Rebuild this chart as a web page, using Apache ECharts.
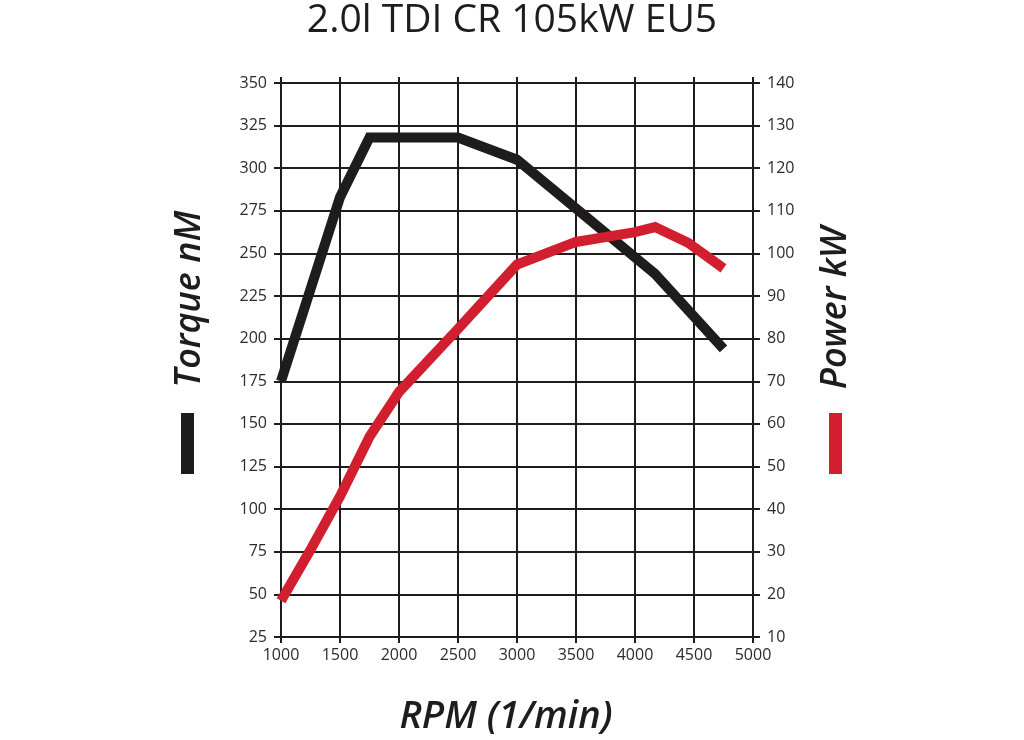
<!DOCTYPE html>
<html>
<head>
    <meta charset="UTF-8">
    <title>2.0l TDI CR 105kW EU5</title>
    <script src="https://cdn.jsdelivr.net/npm/echarts@6/dist/echarts.min.js"></script>
    <style>
        html, body { margin: 0; padding: 0; background: #fff; }
        #main { width: 1024px; height: 740px; }
    </style>
</head>
<body>
<div id="main"></div>
<script type="text/javascript">
    // values
    var rpmTorque = [1000, 1500, 1750, 2500, 3000, 4170, 4750];
    var torqueNm = [175, 283, 318, 318, 305, 238, 194];

    var rpmPower = [1000, 1250, 1500, 1750, 2000, 2500, 3000, 3500, 4000, 4170, 4450, 4750];
    var powerKw = [18.5, 30.5, 43, 57, 67.5, 82.3, 97.4, 102.7, 105, 106.2, 102.5, 96.5];

    var rpmTicks = [1000, 5000, 500];      // min, max, step
    var torqueTicks = [25, 350, 25];
    var powerTicks = [10, 140, 10];

    var INK = '#1e1c1d';
    var RED = '#d21f30';
    var FONT = '"Open Sans", "Noto Sans", sans-serif';

    function pairs(xs, ys) {
        return xs.map(function (x, i) { return [x, ys[i]]; });
    }

    var myChart = echarts.init(document.getElementById('main'));

    var gridLine = { show: true, lineStyle: { color: INK, width: 2 } };
    var tickLabel = {
        color: '#2b2b2b', fontSize: 16, fontFamily: FONT,
        formatter: function (v) { return String(v); }   // no thousands comma
    };

    option = {
        backgroundColor: '#fff',
        animation: false,
        title: {
            text: '2.0l TDI CR 105kW EU5',
            left: 'center',
            top: -4,
            textStyle: { color: INK, fontSize: 39, fontWeight: 500, fontFamily: FONT }
        },
        grid: { left: 281, right: 271, top: 83, bottom: 103 },
        xAxis: [{
            type: 'value',
            min: rpmTicks[0], max: rpmTicks[1], interval: rpmTicks[2],
            axisLine: gridLine,
            axisTick: { show: true, inside: false, length: 6, lineStyle: { color: INK, width: 2 } },
            axisLabel: Object.assign({ margin: 10 }, tickLabel),
            splitLine: gridLine
        }, {
            type: 'value',
            position: 'top',
            min: rpmTicks[0], max: rpmTicks[1], interval: rpmTicks[2],
            axisLine: gridLine,
            axisTick: { show: true, inside: false, length: 6, lineStyle: { color: INK, width: 2 } },
            axisLabel: { show: false },
            splitLine: { show: false }
        }],
        yAxis: [{
            type: 'value',
            position: 'left',
            min: torqueTicks[0], max: torqueTicks[1], interval: torqueTicks[2],
            axisLine: gridLine,
            axisTick: { show: true, length: 7, lineStyle: { color: INK, width: 2 } },
            axisLabel: Object.assign({ margin: 14 }, tickLabel),
            splitLine: gridLine
        }, {
            type: 'value',
            position: 'right',
            min: powerTicks[0], max: powerTicks[1], interval: powerTicks[2],
            axisLine: gridLine,
            axisTick: { show: true, length: 7, lineStyle: { color: INK, width: 2 } },
            axisLabel: Object.assign({ margin: 14 }, tickLabel),
            splitLine: { show: false }
        }],
        series: [{
            name: 'Torque nM',
            type: 'line',
            yAxisIndex: 0,
            showSymbol: false,
            symbol: 'none',
            data: pairs(rpmTorque, torqueNm),
            lineStyle: { color: INK, width: 10, cap: 'butt', join: 'miter' },
            z: 5
        }, {
            name: 'Power kW',
            type: 'line',
            yAxisIndex: 1,
            showSymbol: false,
            symbol: 'none',
            data: pairs(rpmPower, powerKw),
            lineStyle: { color: RED, width: 10, cap: 'butt', join: 'miter' },
            z: 6
        }],
        graphic: [{
            type: 'text',
            x: 190, y: 299,
            rotation: Math.PI / 2,
            style: {
                text: 'Torque nM',
                font: 'italic 600 36px ' + FONT,
                fill: INK,
                align: 'center', verticalAlign: 'middle',
                textAlign: 'center', textVerticalAlign: 'middle'
            }
        }, {
            type: 'rect',
            shape: { x: 181, y: 413, width: 13, height: 61 },
            style: { fill: INK }
        }, {
            type: 'text',
            x: 836, y: 308,
            rotation: Math.PI / 2,
            style: {
                text: 'Power kW',
                font: 'italic 600 36px ' + FONT,
                fill: INK,
                align: 'center', verticalAlign: 'middle',
                textAlign: 'center', textVerticalAlign: 'middle'
            }
        }, {
            type: 'rect',
            shape: { x: 829, y: 413, width: 13, height: 61 },
            style: { fill: RED }
        }, {
            type: 'text',
            x: 506, y: 717,
            style: {
                text: 'RPM (1/min)',
                font: 'italic 600 38px ' + FONT,
                fill: INK,
                align: 'center', verticalAlign: 'middle',
                textAlign: 'center', textVerticalAlign: 'middle'
            }
        }]
    };

    myChart.setOption(option);
</script>
</body>
</html>
